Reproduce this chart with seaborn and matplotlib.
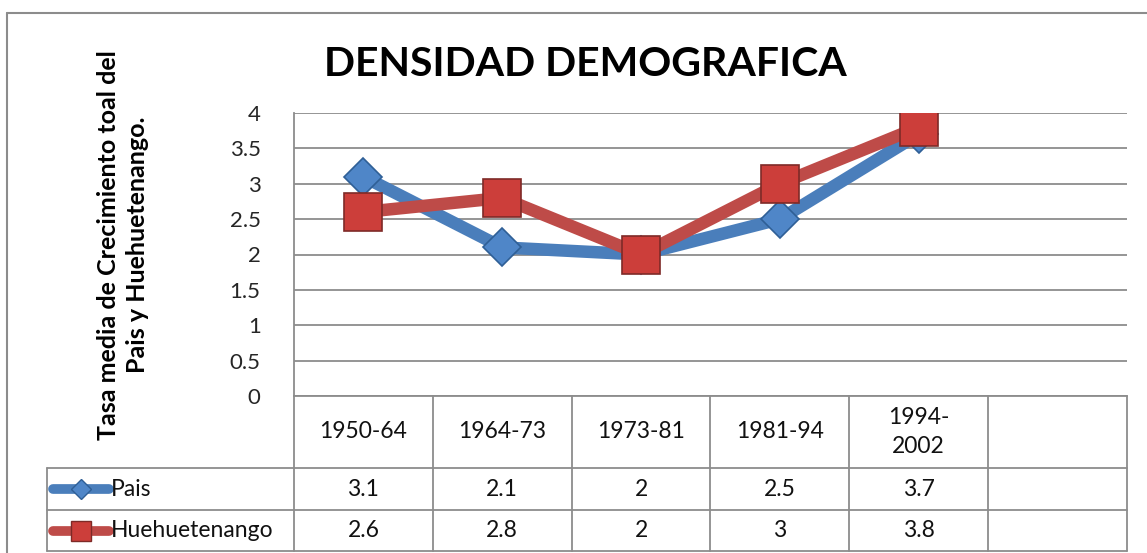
import matplotlib
matplotlib.use("Agg")
import matplotlib.pyplot as plt
import seaborn as sns
import pandas as pd
from matplotlib.lines import Line2D
from matplotlib.transforms import blended_transform_factory

# data
periodos = ["1950-64", "1964-73", "1973-81", "1981-94", "1994-\n2002", ""]
pais = [3.1, 2.1, 2, 2.5, 3.7]
huehuetenango = [2.6, 2.8, 2, 3, 3.8]
series_names = ["Pais", "Huehuetenango"]
y_ticks = [0, 0.5, 1, 1.5, 2, 2.5, 3, 3.5, 4]

W, H = 1147, 553
sns.set_theme(style="white")
plt.rcParams["font.family"] = ["Lato", "DejaVu Sans"]

styles = {
    "Pais": dict(line="#4A7EBB", face="#4F86C8", edge="#2F5F96", marker="D", ms=19),
    "Huehuetenango": dict(line="#BE4B48", face="#CC3E3A", edge="#7E2A27", marker="s", ms=27),
}

rows = []
for name, vals in zip(series_names, [pais, huehuetenango]):
    for i, v in enumerate(vals):
        rows.append({"pos": i, "valor": v, "serie": name})
df = pd.DataFrame(rows)

fig = plt.figure(figsize=(W / 100, H / 100), dpi=100)

def fx(px):
    return px / W

def fy(py):
    return 1 - py / H

# outer chart frame (left and top only visible)
grey = "#8C8C8C"
fig.add_artist(Line2D([fx(7), fx(7)], [fy(13), 0], color=grey, lw=1.5))
fig.add_artist(Line2D([fx(7), 1], [fy(13), fy(13)], color=grey, lw=1.5))

left, right, top, bottom = 294, 1127, 113, 396
ax = fig.add_axes([fx(left), fy(bottom), (right - left) / W, (bottom - top) / H])

for name in series_names:
    st = styles[name]
    sub = df[df["serie"] == name]
    sns.lineplot(data=sub, x="pos", y="valor", ax=ax, color=st["line"], linewidth=9,
                 marker=st["marker"], markersize=st["ms"], markerfacecolor=st["face"],
                 markeredgecolor=st["edge"], markeredgewidth=1.2, legend=False,
                 solid_capstyle="round", solid_joinstyle="round")

ax.set_xlim(-0.5, len(periodos) - 0.5)
ax.set_ylim(0, 4)
ax.set_yticks(y_ticks)
ax.set_yticklabels([f"{t:g}" for t in y_ticks], fontsize=16)
ax.tick_params(axis="y", length=0, pad=24)
ax.set_xticks([])
ax.set_xlabel("")
ax.set_ylabel("")
ax.grid(axis="y", color=grey, lw=1.3)
ax.set_axisbelow(True)
for s in ["top", "right"]:
    ax.spines[s].set_visible(False)
ax.spines["left"].set_color(grey)
ax.spines["left"].set_linewidth(1.3)
ax.spines["bottom"].set_color(grey)
ax.spines["bottom"].set_linewidth(1.3)

# data table under the plot
ph = bottom - top
cat_w = (right - left) / len(periodos)
tr = blended_transform_factory(ax.transData, ax.transAxes)
y_head = -(468 - bottom) / ph
y_r1 = -(510 - bottom) / ph
y_r2 = -(551 - bottom) / ph
x_leg = -0.5 - (left - 47) / cat_w
x_end = len(periodos) - 0.5
kw = dict(color=grey, lw=1.3, transform=tr, clip_on=False)

for b in range(len(periodos) + 1):
    ax.add_line(Line2D([b - 0.5, b - 0.5], [0, y_r2], **kw))
ax.add_line(Line2D([x_leg, x_leg], [y_head, y_r2], **kw))
for yy in [y_head, y_r1, y_r2]:
    ax.add_line(Line2D([x_leg, x_end], [yy, yy], **kw))

for i, lab in enumerate(periodos):
    ax.text(i, y_head / 2, lab, transform=tr, ha="center", va="center",
            fontsize=16.5, color="#111111", linespacing=1.45)

for name, vals, (ya, yb) in zip(series_names, [pais, huehuetenango],
                                [(y_head, y_r1), (y_r1, y_r2)]):
    yc = (ya + yb) / 2
    st = styles[name]
    for i, v in enumerate(vals):
        ax.text(i, yc, f"{v:g}", transform=tr, ha="center", va="center",
                fontsize=16.5, color="#111111")
    lx0 = x_leg + 6 / cat_w
    lx1 = x_leg + 62 / cat_w
    ax.add_line(Line2D([lx0, lx1], [yc, yc], color=st["line"], lw=7,
                       solid_capstyle="round", transform=tr, clip_on=False))
    ax.add_line(Line2D([(lx0 + lx1) / 2], [yc], marker=st["marker"],
                       markersize=st["ms"] * 0.55, markerfacecolor=st["face"],
                       markeredgecolor=st["edge"], markeredgewidth=1,
                       transform=tr, clip_on=False, linestyle="none"))
    ax.text(x_leg + 64 / cat_w, yc, name, transform=tr, ha="left", va="center",
            fontsize=16.5, color="#111111")

fig.text(fx(585), fy(64), "DENSIDAD DEMOGRAFICA", ha="center", va="center",
         fontsize=29.5, fontweight="bold", color="black")
fig.text(fx(123), fy(245), "Tasa media de Crecimiento toal del\nPais y Huehuetenango.",
         rotation=90, ha="center", va="center", fontsize=18, fontweight="bold",
         color="black", linespacing=1.35)

fig.savefig("out.png", dpi=100, facecolor="white")
